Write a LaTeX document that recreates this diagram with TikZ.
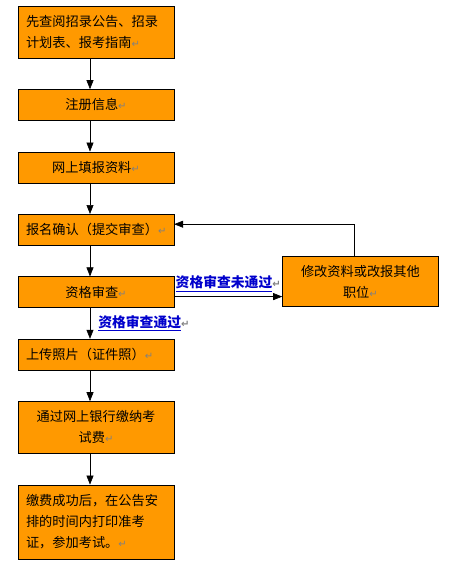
\documentclass[tikz,border=0pt]{standalone}
\usepackage{fontspec}
\setmainfont{Noto Sans CJK SC}
\newfontfamily\markfont{DejaVu Sans}
\usetikzlibrary{arrows.meta, positioning}

\definecolor{boxorange}{HTML}{FF9900}
\definecolor{passblue}{HTML}{0000CC}
\newcommand{\retmark}{{\markfont\color{gray}\fontsize{10}{10}\selectfont ↵}}

\begin{document}
\begin{tikzpicture}[
    node distance=31pt,
    >={Triangle[width=7pt,length=9pt]},
    stepbox/.style={draw=black, fill=boxorange, minimum width=156pt, minimum height=31pt, text width=140pt, inner xsep=8pt, inner ysep=2pt, font=\fontsize{13.2}{21}\selectfont, align=#1},
    stepbox/.default=center,
    flow/.style={->, semithick},
    result/.style={font=\fontsize{13.8}{15}\selectfont\bfseries, text=passblue, inner sep=1pt},
]
\useasboundingbox (0,0) rectangle (448pt,-569pt);

% ── Main column ──
\node[stepbox=left, minimum height=52pt] (notice) at (96pt,-32pt) {先查阅招录公告、招录\\计划表、报考指南\retmark};
\node[stepbox, below=of notice] (register) {注册信息\retmark};
\node[stepbox, below=of register] (fillin) {网上填报资料\retmark};
\node[stepbox=left, below=of fillin] (confirm) {报名确认（提交审查）\retmark};
\node[stepbox, below=of confirm] (check) {资格审查\retmark};
\node[stepbox=left, below=of check] (photo) {上传照片（证件照）\retmark};
\node[stepbox, minimum height=52pt, below=of photo] (pay) {通过网上银行缴纳考\\试费\retmark};
\node[stepbox=left, minimum height=74pt, below=of pay] (print) {缴费成功后，在公告安\\排的时间内打印准考\\证，参加考试。\retmark};

% ── Side branch ──
\node[stepbox, minimum height=50pt, anchor=south west] (modify) at ([xshift=108pt, yshift=1pt]check.south east) {修改资料或改报其他\\职位\retmark};

% ── Arrows ──
\draw[flow] ([xshift=-6pt]notice.south) -- ([xshift=-6pt]register.north);
\draw[flow] ([xshift=-6pt]register.south) -- ([xshift=-6pt]fillin.north);
\draw[flow] ([xshift=-6pt]fillin.south) -- ([xshift=-6pt]confirm.north);
\draw[flow] ([xshift=-6pt]confirm.south) -- ([xshift=-6pt]check.north);
\draw[flow] ([xshift=-6pt]check.south) -- ([xshift=-6pt]photo.north)
    node[midway, right=7pt, result] {\underline{资格审查通过}\retmark};
\draw[flow] ([xshift=-6pt]photo.south) -- ([xshift=-6pt]pay.north);
\draw[flow] ([xshift=-6pt]pay.south) -- ([xshift=-6pt]print.north);
\draw[flow] ([yshift=-4.5pt]check.east) -- ([yshift=-4.5pt]check.east -| modify.west)
    node[midway, above=4pt, result] {\underline{资格审查未通过}\retmark};
\draw[flow] ([xshift=-6pt]modify.north) |- ([yshift=5.5pt]confirm.east);

\end{tikzpicture}
\end{document}
